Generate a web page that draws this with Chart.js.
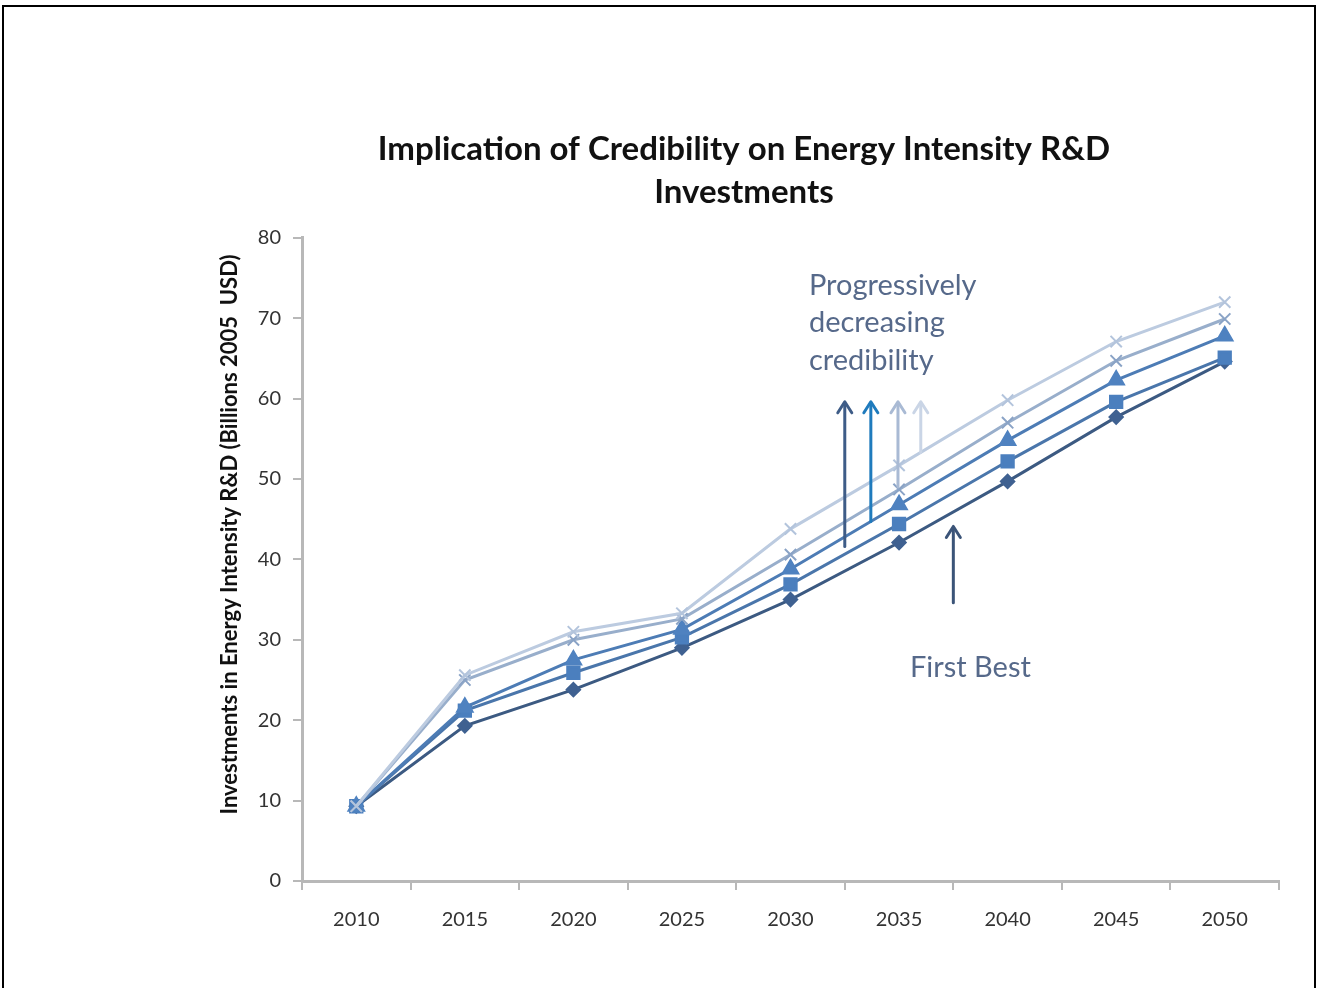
<!DOCTYPE html>
<html lang="en">
<head>
    <meta charset="UTF-8">
    <title>Implication of Credibility on Energy Intensity R&amp;D Investments</title>
    <script src="https://cdn.jsdelivr.net/npm/chart.js"></script>
    <style>
        body, html {
            margin: 0;
            padding: 0;
            width: 100%;
            height: 100%;
            overflow: hidden;
            background: #fff;
            font-family: Lato, Arial, sans-serif;
        }
        #frame {
            position: absolute;
            left: 2px;
            top: 5px;
            width: 1310px;
            height: 1010px;
            border: 2px solid #000;
        }
        #wrap {
            position: absolute;
            left: 0;
            top: 0;
            width: 1317px;
            height: 988px;
        }
    </style>
</head>
<body>
    <div id="frame"></div>
    <div id="wrap"><canvas id="rdChart"></canvas></div>

    <script>
        const years = ['2010', '2015', '2020', '2025', '2030', '2035', '2040', '2045', '2050'];
        const yTicks = [0, 10, 20, 30, 40, 50, 60, 70, 80];

        // First Best (diamond) up to the least credible case (lightest cross)
        const firstBest = [9.3, 19.3, 23.8, 29.0, 35.0, 42.1, 49.7, 57.7, 64.6];
        const credSquare = [9.3, 21.2, 25.9, 30.3, 36.9, 44.4, 52.2, 59.6, 65.1];
        const credTriangle = [9.3, 21.6, 27.5, 31.3, 38.8, 46.8, 54.8, 62.3, 67.8];
        const credCrossA = [9.3, 25.0, 30.0, 32.6, 40.6, 48.7, 57.0, 64.7, 69.9];
        const credCrossB = [9.3, 25.6, 31.0, 33.3, 43.8, 51.7, 59.8, 67.1, 72.0];

        // annotation arrows: [category position, from value, to value, colour]
        const upArrows = [
            [4.50, 41.6, 59.6, '#3e5c87'],
            [4.74, 44.7, 59.6, '#1f7bbd'],
            [4.99, 49.0, 59.6, '#a9bad4'],
            [5.20, 53.3, 59.6, '#cad5e6']
        ];
        const firstBestArrow = [5.50, 34.6, 44.1, '#3b5478'];

        const font = 'Lato, Arial, sans-serif';

        const notes = {
            id: 'notes',
            afterDatasetsDraw(chart) {
                const { ctx, scales: { x, y }, chartArea } = chart;
                ctx.save();

                const arrow = (pos, from, to, color) => {
                    const px = x.getPixelForValue(pos);
                    const y0 = y.getPixelForValue(from);
                    const y1 = y.getPixelForValue(to);
                    ctx.strokeStyle = color;
                    ctx.lineWidth = 3;
                    ctx.lineCap = 'round';
                    ctx.lineJoin = 'round';
                    ctx.beginPath();
                    ctx.moveTo(px, y0);
                    ctx.lineTo(px, y1 + 2);
                    ctx.stroke();
                    ctx.beginPath();
                    ctx.moveTo(px - 7, y1 + 11);
                    ctx.lineTo(px, y1);
                    ctx.lineTo(px + 7, y1 + 11);
                    ctx.stroke();
                };
                upArrows.forEach(a => arrow(...a));
                arrow(...firstBestArrow);

                ctx.fillStyle = '#56698a';
                ctx.font = '29px ' + font;
                ctx.textAlign = 'left';
                ctx.textBaseline = 'middle';
                const tx = x.getPixelForValue(4.17);
                ctx.fillText('Progressively', tx, y.getPixelForValue(74.1));
                ctx.fillText('decreasing', tx, y.getPixelForValue(69.4));
                ctx.fillText('credibility', tx, y.getPixelForValue(64.7));
                ctx.fillText('First Best', x.getPixelForValue(5.10), y.getPixelForValue(26.5));

                // y axis title
                ctx.fillStyle = '#111';
                ctx.font = 'bold 22px ' + font;
                ctx.textAlign = 'center';
                ctx.translate(chartArea.left - 72, y.getPixelForValue(43.1));
                ctx.rotate(-Math.PI / 2);
                ctx.fillText('Investments in Energy Intensity R&D (Billions 2005  USD)', 0, 0);
                ctx.restore();
            }
        };

        const ctx = document.getElementById('rdChart').getContext('2d');
        new Chart(ctx, {
            type: 'line',
            data: {
                labels: years,
                datasets: [
                    {
                        label: 'Least credible',
                        data: credCrossB,
                        borderColor: '#bccbe0',
                        pointBorderColor: '#b3c4dc',
                        pointStyle: 'crossRot',
                        pointRadius: 8,
                        pointBorderWidth: 2
                    },
                    {
                        label: 'Low credibility',
                        data: credCrossA,
                        borderColor: '#98aecb',
                        pointBorderColor: '#8aa3c6',
                        pointStyle: 'crossRot',
                        pointRadius: 8,
                        pointBorderWidth: 2
                    },
                    {
                        label: 'Medium credibility',
                        data: credTriangle,
                        borderColor: '#4d7cb5',
                        pointBackgroundColor: '#4f82c0',
                        pointBorderColor: '#4f82c0',
                        pointStyle: 'triangle',
                        pointRadius: 8
                    },
                    {
                        label: 'High credibility',
                        data: credSquare,
                        borderColor: '#4a76ab',
                        pointBackgroundColor: '#4b7fbe',
                        pointBorderColor: '#4b7fbe',
                        pointStyle: 'rect',
                        pointRadius: 8
                    },
                    {
                        label: 'First Best',
                        data: firstBest,
                        borderColor: '#3c5a82',
                        pointBackgroundColor: '#3f6191',
                        pointBorderColor: '#3f6191',
                        pointStyle: 'rectRot',
                        pointRadius: 6
                    }
                ].map(d => Object.assign({ borderWidth: 3, tension: 0, fill: false }, d))
            },
            options: {
                responsive: true,
                maintainAspectRatio: false,
                animation: false,
                layout: { padding: { left: 209, right: 38, top: 118, bottom: 0 } },
                plugins: {
                    legend: { display: false },
                    tooltip: { enabled: false },
                    title: {
                        display: true,
                        text: ['Implication of Credibility on Energy Intensity R&D', 'Investments'],
                        color: '#111',
                        font: { family: font, size: 33, weight: 'bold', lineHeight: 1.3 },
                        padding: { top: 10, bottom: 24 }
                    }
                },
                scales: {
                    x: {
                        offset: true,
                        grid: { offset: true, drawOnChartArea: false, tickLength: 9, color: '#b8b8b8', lineWidth: 2 },
                        border: { color: '#b8b8b8', width: 3 },
                        ticks: { color: '#333', font: { family: font, size: 20 }, padding: 18, maxRotation: 0 },
                        afterFit: s => { s.height = 107; }
                    },
                    y: {
                        min: 0,
                        max: 80,
                        afterBuildTicks: s => { s.ticks = yTicks.map(v => ({ value: v })); },
                        grid: { drawOnChartArea: false, tickLength: 9, color: '#b8b8b8', lineWidth: 2 },
                        border: { color: '#b8b8b8', width: 3 },
                        ticks: { color: '#333', font: { family: font, size: 20 }, padding: 12 },
                        afterFit: s => { s.width = 93; }
                    }
                }
            },
            plugins: [notes]
        });
    </script>
</body>
</html>
